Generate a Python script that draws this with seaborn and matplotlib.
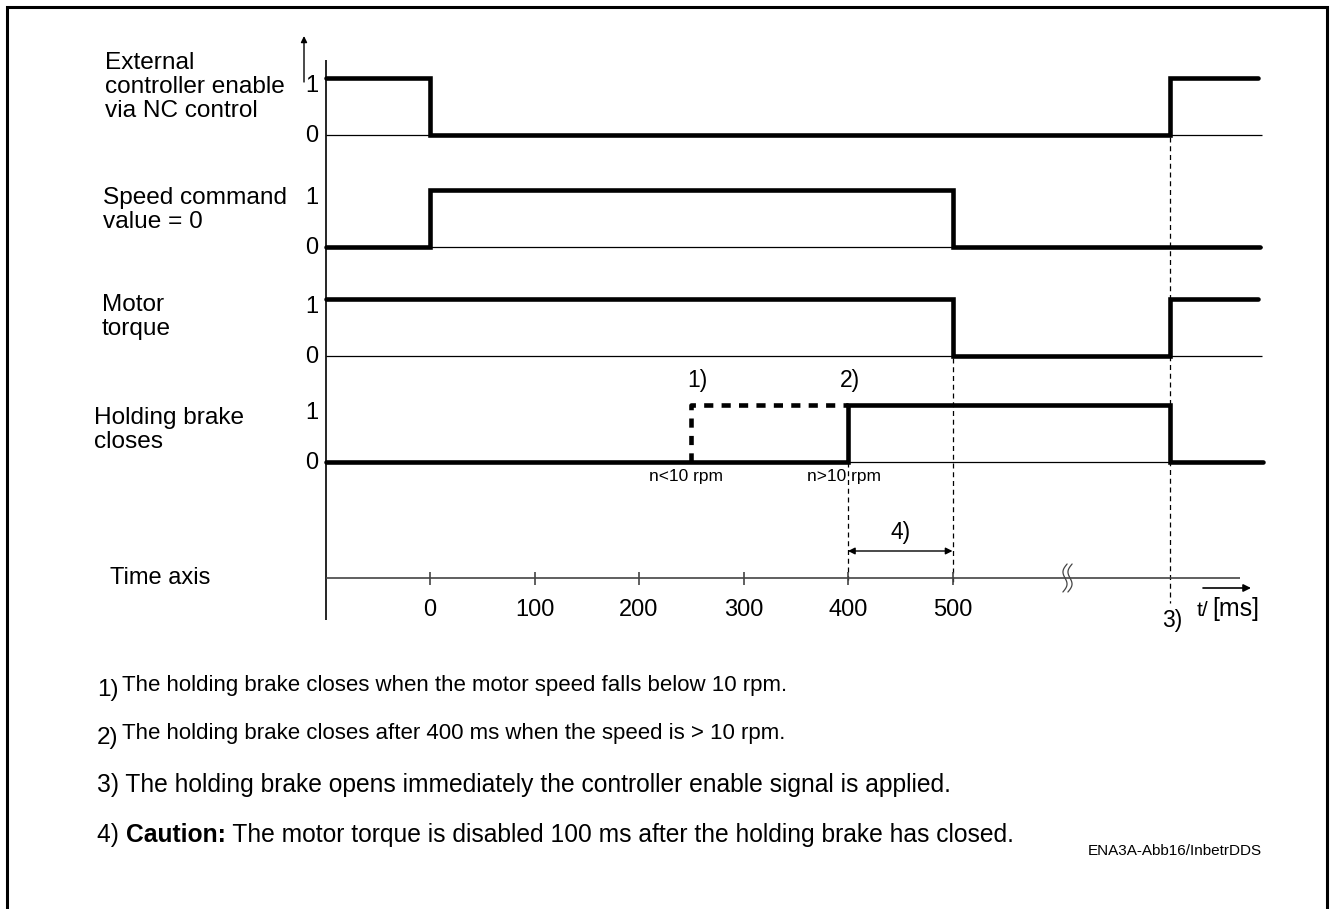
import numpy as np
import pandas as pd
import matplotlib
matplotlib.use('Agg')
import matplotlib.pyplot as plt
from matplotlib.patches import Rectangle
import seaborn as sns

# signal edges: time in ms, level after each edge
enable_t = [-100, 0, 708, 792]
enable_v = [1, 0, 1, 1]
speed_t = [-100, 0, 500, 794]
speed_v = [0, 1, 0, 0]
torque_t = [-100, 500, 708, 792]
torque_v = [1, 0, 1, 1]
brake_t = [-100, 400, 708, 797]
brake_v = [0, 1, 0, 0]
# alternative brake closing (n < 10 rpm)
brake_alt_t = [250, 250, 400]
brake_alt_v = [0, 1, 1]

signal_labels = [
    'External\ncontroller enable\nvia NC control',
    'Speed command\nvalue = 0',
    'Motor\ntorque',
    'Holding brake\ncloses',
]
time_ticks = [0, 100, 200, 300, 400, 500]

footnotes = [
    ('1)', 'The holding brake closes when the motor speed falls below 10 rpm.'),
    ('2)', 'The holding brake closes after 400 ms when the speed is > 10 rpm.'),
]
footnote_3 = '3) The holding brake opens immediately the controller enable signal is applied.'
footnote_4 = ['4) ', 'Caution:', ' The motor torque is disabled 100 ms after the holding brake has closed.']

# ---------------- layout ----------------
W, H = 1332, 909
PX0, PXS = 430, 1.045          # pixel of t=0, pixels per ms


def x2t(px):
    return (px - PX0) / PXS


base_y = [135, 247, 356, 462]   # y pixel of level 0
amp = 57                        # pixel height of level 1
axis_y = 578

sns.set_style('white')
plt.rcParams['font.family'] = ['Liberation Sans', 'DejaVu Sans']
plt.rcParams['text.color'] = 'black'
NARROW = ['Liberation Sans Narrow', 'Liberation Sans', 'DejaVu Sans']

fig = plt.figure(figsize=(W / 100, H / 100), dpi=100)
ax = fig.add_axes([0, 0, 1, 1])


def ftext(px, py, s, **kw):
    return fig.text(px / W, 1 - py / H, s, **kw)


# frame
fig.patches.append(Rectangle((7 / W, -0.05), (1327 - 7) / W, 1.05 - 7 / H,
                             transform=fig.transFigure, fill=False,
                             lw=2.2, edgecolor='black'))

# signals
rows = []
for i, (ts, vs) in enumerate([(enable_t, enable_v), (speed_t, speed_v),
                              (torque_t, torque_v), (brake_t, brake_v)]):
    for t, v in zip(ts, vs):
        rows.append({'sig': i, 't': t, 'y': base_y[i] - v * amp})
df = pd.DataFrame(rows)

ax.hlines(base_y, -100, 796, color='black', lw=0.9)

sns.lineplot(data=df, x='t', y='y', units='sig', estimator=None, sort=False,
             drawstyle='steps-post', color='black', linewidth=3.3,
             solid_joinstyle='miter', legend=False, ax=ax)
ax.plot(brake_alt_t, [base_y[3] - v * amp for v in brake_alt_v],
        color='black', lw=3.3, linestyle=(0, (2.0, 1.8)))
ax.set_xlim(x2t(0), x2t(W))
ax.set_ylim(H, 0)
ax.axis('off')

# level labels and left axis
for i, b in enumerate(base_y):
    ftext(312, b - amp + 8, '1', fontsize=17, ha='center', va='center')
    ftext(312, b + 1, '0', fontsize=17, ha='center', va='center')
ax.vlines(-100, 60, 620, color='black', lw=1.2)
ax.annotate('', xy=(x2t(304), 36), xytext=(x2t(304), 82),
            arrowprops=dict(arrowstyle='-|>', color='black', lw=1,
                            mutation_scale=9, shrinkA=0, shrinkB=0))

# signal names
label_x = [105, 103, 102, 94]
label_centers = [87, 210, 317, 430]
for lab, xl, yc in zip(signal_labels, label_x, label_centers):
    ftext(xl, yc, lab, fontsize=17.6, ha='left', va='center', linespacing=1.1)
ftext(110, axis_y, 'Time axis', fontsize=17, ha='left', va='center')

# dashed guides
dash = (0, (4, 3))
ax.vlines(brake_t[1], base_y[3], axis_y + 2, color='black', lw=0.9, linestyles=[dash])
ax.vlines(torque_t[1], base_y[2] + 2, axis_y + 4, color='black', lw=0.9, linestyles=[dash])
ax.vlines(enable_t[2], base_y[0] + 2, 603, color='black', lw=0.9, linestyles=[dash])

# time axis
ax.hlines(axis_y, -100, x2t(1240), color='#444444', lw=1.2)
ax.vlines(time_ticks, axis_y - 6, axis_y + 7, color='#444444', lw=1.2)
for t in time_ticks:
    ax.text(t, 610, str(t), fontsize=17, ha='center', va='center')

# axis break
bx = x2t(1065)
yy = np.linspace(axis_y - 14, axis_y + 14, 40)
wig = 3 * np.sin((yy - axis_y) / 14 * np.pi)
for off in (0, 5):
    ax.plot(bx + (wig + off - (yy - axis_y) * 0.15) / PXS, yy, color='#444444', lw=0.9)

# t/[ms]
ax.annotate('', xy=(x2t(1251), 588), xytext=(x2t(1203), 588),
            arrowprops=dict(arrowstyle='-|>', color='black', lw=1.2,
                            mutation_scale=11, shrinkA=0, shrinkB=0))
ftext(1197, 610, 't/', fontsize=15, ha='left', va='center', family=NARROW)
ftext(1212, 609, '[ms]', fontsize=18, ha='left', va='center', family=NARROW)

# annotations
ax.text(brake_alt_t[0] + 6, 380, '1)', fontsize=16.5, ha='center', va='center')
ax.text(brake_t[1] + 2, 380, '2)', fontsize=16.5, ha='center', va='center')
ax.text(brake_alt_t[0] - 5, 477, 'n<10 rpm', fontsize=12.5, ha='center', va='center', family=NARROW)
ax.text(brake_t[1] - 4, 477, 'n>10 rpm', fontsize=12.5, ha='center', va='center', family=NARROW)
ax.text(enable_t[2] + 2, 620, '3)', fontsize=16.5, ha='center', va='center')

ax.annotate('', xy=(brake_t[1], 551), xytext=(torque_t[1], 551),
            arrowprops=dict(arrowstyle='<|-|>', color='black', lw=1,
                            mutation_scale=10, shrinkA=0, shrinkB=0))
ax.text((brake_t[1] + torque_t[1]) / 2, 532, '4)', fontsize=16.5, ha='center', va='center')

# footnotes
for (num, txt), yc in zip(footnotes, [685, 733]):
    ftext(97, yc + 5, num, fontsize=17.5, ha='left', va='center')
    ftext(122, yc, txt, fontsize=16, ha='left', va='center', family=NARROW)
ftext(97, 785, footnote_3, fontsize=17.7, ha='left', va='center')

fig.canvas.draw()
r = fig.canvas.get_renderer()
xpos = 97
for part, wt in zip(footnote_4, ['normal', 'bold', 'normal']):
    tx = ftext(xpos, 835, part, fontsize=17.7, ha='left', va='center', fontweight=wt)
    xpos = tx.get_window_extent(r).x1
ftext(1262, 851, 'ENA3A-Abb16/InbetrDDS', fontsize=11, ha='right', va='center')

fig.savefig('out.png', dpi=100)
